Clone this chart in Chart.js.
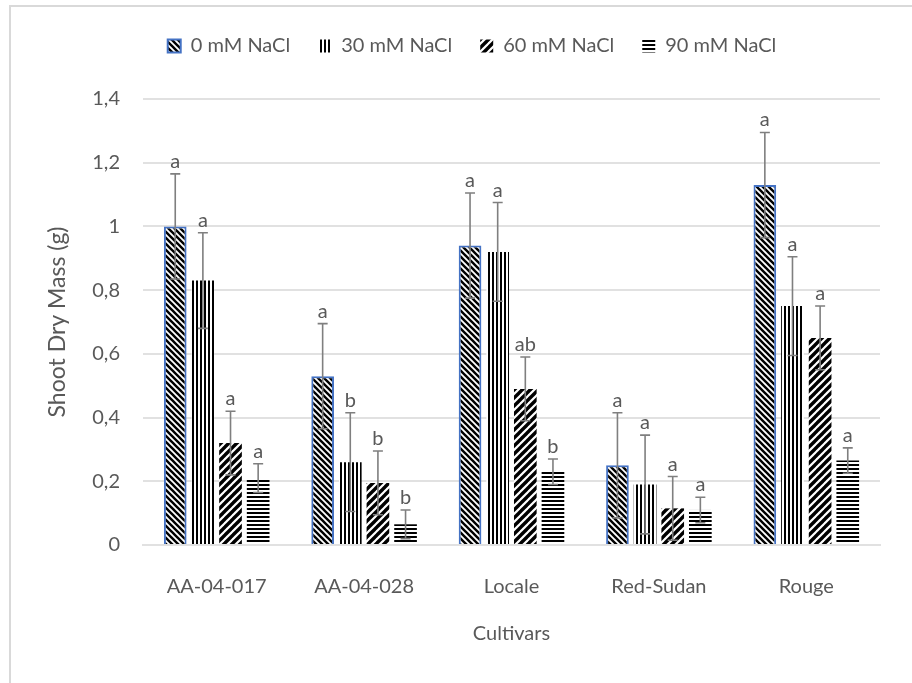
<!DOCTYPE html>
<html>
<head>
<meta charset="utf-8">
<script src="https://cdn.jsdelivr.net/npm/chart.js@4.4.1/dist/chart.umd.min.js"></script>
<style>
  html, body { margin: 0; padding: 0; background: #fff; }
  #wrap { width: 912px; height: 683px; }
</style>
</head>
<body>
<div id="wrap"><canvas id="shootChart" width="912" height="683"></canvas></div>
<script>
// cultivars and treatments
var cultivars = ["AA-04-017", "AA-04-028", "Locale", "Red-Sudan", "Rouge"];
var treatments = ["0 mM NaCl", "30 mM NaCl", "60 mM NaCl", "90 mM NaCl"];

// shoot dry mass (g)
var mass0  = [1.00, 0.53, 0.94, 0.25, 1.13];
var mass30 = [0.83, 0.26, 0.92, 0.19, 0.75];
var mass60 = [0.32, 0.195, 0.49, 0.115, 0.65];
var mass90 = [0.21, 0.065, 0.23, 0.11, 0.265];

// error bar half lengths
var err0  = [0.165, 0.165, 0.165, 0.165, 0.165];
var err30 = [0.15, 0.155, 0.155, 0.155, 0.155];
var err60 = [0.10, 0.10, 0.10, 0.10, 0.10];
var err90 = [0.045, 0.045, 0.04, 0.04, 0.04];

// significance letters
var letters0  = ["a", "a", "a", "a", "a"];
var letters30 = ["a", "b", "a", "a", "a"];
var letters60 = ["a", "b", "ab", "a", "a"];
var letters90 = ["a", "b", "b", "a", "a"];

var yTicks = [0, 0.2, 0.4, 0.6, 0.8, 1, 1.2, 1.4];

var textGrey = "#595959";

// hatch fills like the excel patterns
function hatch(kind) {
    var c = document.createElement("canvas");
    var s = (kind == "down") ? 6 : (kind == "up" ? 8 : 4);
    c.width = s; c.height = s;
    var g = c.getContext("2d");
    g.fillStyle = "#fff";
    g.fillRect(0, 0, s, s);
    g.fillStyle = "#000";
    g.strokeStyle = "#000";
    if (kind == "vert") {
        g.fillRect(0, 0, 2, s);
    } else if (kind == "horiz") {
        g.fillRect(0, 0, s, 2);
    } else {
        g.lineWidth = (kind == "down") ? 2.4 : 3.4;
        for (var k = -1; k <= 1; k++) {
            g.beginPath();
            if (kind == "down") {
                g.moveTo(-1, -1 + k * s);
                g.lineTo(s + 1, s + 1 + k * s);
            } else {
                g.moveTo(-1, s + 1 + k * s);
                g.lineTo(s + 1, -1 + k * s);
            }
            g.stroke();
        }
    }
    return g.createPattern(c, "repeat");
}

var errorBars = {
    id: "errorBars",
    afterLayout: function(chart) {
        // legend sits a bit right of the canvas middle in the original
        if (chart.legend) {
            chart.legend.left += 18;
            chart.legend.right += 18;
        }
    },
    beforeDraw: function(chart) {
        // outer frame of the chart area (runs off the right and bottom)
        var ctx = chart.ctx;
        ctx.save();
        ctx.strokeStyle = "#d9d9d9";
        ctx.lineWidth = 2;
        ctx.strokeRect(10, 6, 1200, 1200);
        ctx.restore();
    },
    afterDatasetsDraw: function(chart) {
        var ctx = chart.ctx;
        var y = chart.scales.y;
        ctx.save();
        chart.data.datasets.forEach(function(ds, i) {
            var meta = chart.getDatasetMeta(i);
            meta.data.forEach(function(bar, j) {
                var v = ds.data[j], e = ds.errs[j];
                var top = y.getPixelForValue(v + e);
                var bot = y.getPixelForValue(v - e);
                ctx.strokeStyle = "#7f7f7f";
                ctx.lineWidth = 1.6;
                ctx.beginPath();
                ctx.moveTo(bar.x, top); ctx.lineTo(bar.x, bot);
                ctx.moveTo(bar.x - 5, top); ctx.lineTo(bar.x + 5, top);
                ctx.moveTo(bar.x - 5, bot); ctx.lineTo(bar.x + 5, bot);
                ctx.stroke();
                ctx.fillStyle = textGrey;
                ctx.font = "20px Lato";
                ctx.textAlign = "center";
                ctx.textBaseline = "alphabetic";
                ctx.fillText(ds.letters[j], bar.x, top - 6);
            });
        });
        ctx.restore();
    }
};

Chart.defaults.font.family = "Lato";
Chart.defaults.font.size = 20;
Chart.defaults.color = textGrey;

var shootChart = new Chart(document.getElementById("shootChart"), {
    type: "bar",
    data: {
        labels: cultivars,
        datasets: [
            { label: treatments[0], data: mass0, errs: err0, letters: letters0,
              backgroundColor: hatch("down"), borderColor: "#4472c4", borderWidth: 2 },
            { label: treatments[1], data: mass30, errs: err30, letters: letters30,
              backgroundColor: hatch("vert"), borderWidth: 0 },
            { label: treatments[2], data: mass60, errs: err60, letters: letters60,
              backgroundColor: hatch("up"), borderWidth: 0 },
            { label: treatments[3], data: mass90, errs: err90, letters: letters90,
              backgroundColor: hatch("horiz"), borderWidth: 0 }
        ]
    },
    options: {
        responsive: false,
        animation: false,
        categoryPercentage: 0.75,
        barPercentage: 0.82,
        layout: { padding: { left: 28, right: 32, top: 8, bottom: 0 } },
        plugins: {
            legend: {
                position: "top",
                weight: 1000,
                labels: { boxWidth: 13, boxHeight: 13, padding: 28, color: textGrey }
            },
            // empty title used as a gap between legend and plot
            title: {
                display: true, text: " ", weight: 500,
                font: { size: 10, lineHeight: 1 },
                padding: { top: 10, bottom: 13 }
            },
            tooltip: { enabled: false }
        },
        scales: {
            x: {
                grid: { display: false },
                border: { display: true, color: "#e1e1e1", width: 2 },
                ticks: { padding: 22 },
                title: { display: true, text: "Cultivars", padding: { top: 0, bottom: 37 } },
                afterFit: function(scale) { scale.height = 683 - 545; }
            },
            y: {
                min: 0,
                max: 1.4,
                afterBuildTicks: function(scale) {
                    scale.ticks = yTicks.map(function(v) { return { value: v }; });
                },
                grid: { color: "#e1e1e1", lineWidth: 2, drawTicks: false },
                border: { display: false },
                ticks: {
                    padding: 23,
                    callback: function(v) {
                        return (Math.round(v * 10) / 10).toString().replace(".", ",");
                    }
                },
                title: {
                    display: true, text: "Shoot Dry Mass (g)",
                    font: { size: 23 },
                    padding: { top: 16, bottom: 0 }
                },
                afterFit: function(scale) { scale.width = 143 - 28; }
            }
        }
    },
    plugins: [errorBars]
});
</script>
</body>
</html>
